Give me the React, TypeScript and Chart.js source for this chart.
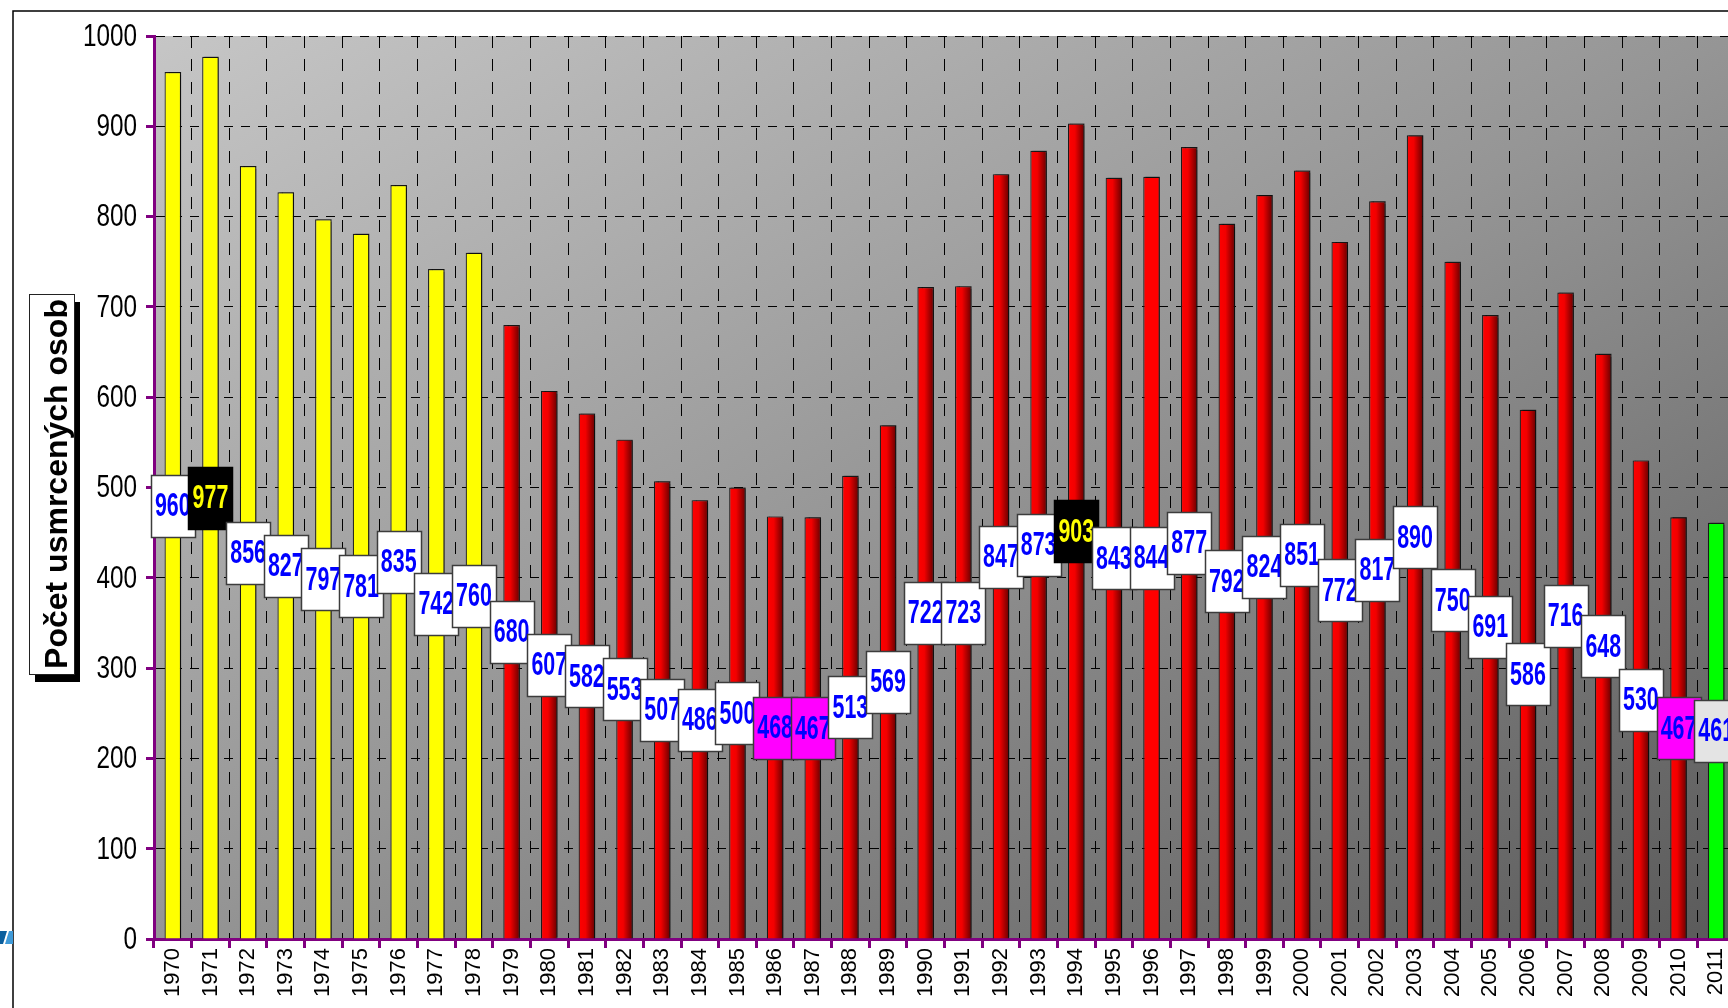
import React, { useEffect, useRef } from "react";
import { Chart, registerables } from "chart.js";

Chart.register(...registerables);

// ---- data ----
const years = [
  "1970", "1971", "1972", "1973", "1974", "1975", "1976", "1977", "1978", "1979",
  "1980", "1981", "1982", "1983", "1984", "1985", "1986", "1987", "1988", "1989",
  "1990", "1991", "1992", "1993", "1994", "1995", "1996", "1997", "1998", "1999",
  "2000", "2001", "2002", "2003", "2004", "2005", "2006", "2007", "2008", "2009",
  "2010", "2011",
];
const deaths = [
  960, 977, 856, 827, 797, 781, 835, 742, 760, 680,
  607, 582, 553, 507, 486, 500, 468, 467, 513, 569,
  722, 723, 847, 873, 903, 843, 844, 877, 792, 824,
  851, 772, 817, 890, 750, 691, 586, 716, 648, 530,
  467, 461,
];
const yMin = 0;
const yMax = 1000;
const yStep = 100;
const yAxisTitle = "Počet usmrcených osob";

// groups of years
const seventiesYears = ["1970", "1971", "1972", "1973", "1974", "1975", "1976", "1977", "1978"];
const currentYears = ["2011"];
const plainYears = ["1996"];
const maxYears = ["1971", "1994"];
const minYears = ["1986", "1987", "2010"];

const BAR_PCT = 0.44;
const FONT = "'Liberation Sans', Arial, sans-serif";

const backgroundPlugin = {
  id: "bgPlugin",
  beforeDraw(chart: any) {
    const { ctx, chartArea } = chart;
    const { left, top, right, bottom } = chartArea;
    ctx.save();
    ctx.fillStyle = "#ffffff";
    ctx.fillRect(0, 0, chart.width, chart.height);
    // outer frame
    ctx.strokeStyle = "#000";
    ctx.lineWidth = 1.5;
    ctx.strokeRect(13, 11, 3000, 3000);
    // plot background gradient (diagonal)
    const w = right - left;
    const h = bottom - top;
    const s = (2 * w * h) / (w * w + h * h);
    const g = ctx.createLinearGradient(left, top, left + h * s, top + w * s);
    g.addColorStop(0, "#c6c6c6");
    g.addColorStop(0.5, "#959595");
    g.addColorStop(1, "#5a5a5a");
    ctx.fillStyle = g;
    ctx.fillRect(left, top, w, h);
    // small logo fragment at left edge
    ctx.fillStyle = "#0b5f9e";
    ctx.beginPath();
    ctx.moveTo(0, 931);
    ctx.lineTo(7, 931);
    ctx.lineTo(3, 944);
    ctx.lineTo(0, 944);
    ctx.closePath();
    ctx.fill();
    ctx.fillStyle = "#3f9ad8";
    ctx.beginPath();
    ctx.moveTo(9, 931);
    ctx.lineTo(13, 931);
    ctx.lineTo(13, 944);
    ctx.lineTo(5, 944);
    ctx.closePath();
    ctx.fill();
    ctx.restore();
  },
  beforeDatasetDraw(chart: any) {
    const { ctx } = chart;
    ctx.shadowColor = "rgba(0,0,0,0.5)";
    ctx.shadowOffsetX = 2;
    ctx.shadowOffsetY = -1;
    ctx.shadowBlur = 1;
  },
  afterDatasetDraw(chart: any) {
    const { ctx } = chart;
    ctx.shadowColor = "rgba(0,0,0,0)";
    ctx.shadowOffsetX = 0;
    ctx.shadowOffsetY = 0;
    ctx.shadowBlur = 0;
  },
  afterDraw(chart: any) {
    const { ctx } = chart;
    ctx.save();
    // y tick labels (narrow style), positioned from the library's y scale ticks
    const ys = chart.scales.y;
    ctx.font = `32px ${FONT}`;
    ctx.fillStyle = "#000";
    ctx.textAlign = "right";
    ctx.textBaseline = "middle";
    ys.ticks.forEach((t: any) => {
      const py = ys.getPixelForValue(t.value);
      ctx.save();
      ctx.translate(ys.right - 17, py + 1);
      ctx.scale(0.76, 1);
      ctx.fillText(String(t.value), 0, 0);
      ctx.restore();
    });
    // y-axis title box with shadow
    const bx = 29, by = 294, bw = 45, bh = 380;
    ctx.fillStyle = "#000";
    ctx.fillRect(bx + 6, by + 8, bw, bh);
    ctx.fillStyle = "#fff";
    ctx.fillRect(bx, by, bw, bh);
    ctx.strokeStyle = "#222";
    ctx.lineWidth = 1;
    ctx.strokeRect(bx + 0.5, by + 0.5, bw, bh);
    ctx.translate(bx + 38, by + bh / 2);
    ctx.rotate(-Math.PI / 2);
    ctx.font = `bold 32px ${FONT}`;
    ctx.fillStyle = "#000";
    ctx.textAlign = "center";
    ctx.textBaseline = "alphabetic";
    ctx.fillText(yAxisTitle, 0, 0);
    ctx.restore();
  },
};

const labelPlugin = {
  id: "valueBoxes",
  afterDatasetsDraw(chart: any) {
    const { ctx } = chart;
    const yScale = chart.scales.y;
    const meta = chart.getDatasetMeta(0);
    const boxW = 44;
    const boxH = 62;
    meta.data.forEach((bar: any, i: number) => {
      const v = deaths[i];
      const yr = years[i];
      const cx = bar.x;
      const cy = yScale.getPixelForValue(v / 2);
      let fill = "#ffffff";
      let textColor = "#0000ff";
      let stroke = "#3c3c3c";
      if (maxYears.includes(yr)) {
        fill = "#000000";
        textColor = "#ffff00";
        stroke = "#000000";
      } else if (minYears.includes(yr)) {
        fill = "#ff00ff";
        stroke = "#3c3c3c";
      } else if (currentYears.includes(yr)) {
        fill = "#e4e4e4";
      }
      ctx.save();
      const x0 = Math.round(cx - boxW / 2) + 0.5;
      const y0 = Math.round(cy - boxH / 2) + 0.5;
      ctx.fillStyle = fill;
      ctx.fillRect(x0, y0, boxW, boxH);
      ctx.strokeStyle = stroke;
      ctx.lineWidth = 1.5;
      ctx.strokeRect(x0, y0, boxW, boxH);
      ctx.translate(cx, cy + 1);
      ctx.scale(0.63, 1);
      ctx.font = `bold 34px ${FONT}`;
      ctx.fillStyle = textColor;
      ctx.textAlign = "center";
      ctx.textBaseline = "middle";
      ctx.fillText(String(v), 0, 0);
      ctx.restore();
    });
  },
};

function barColor(c: any) {
  const i = c.dataIndex;
  if (i === undefined) return "#ff0000";
  const yr = years[i];
  if (seventiesYears.includes(yr)) return "#ffff00";
  if (currentYears.includes(yr)) return "#00ff00";
  if (plainYears.includes(yr)) return "#ff0000";
  const chart = c.chart;
  const xs = chart.scales && chart.scales.x;
  if (!xs || !chart.chartArea) return "#e00000";
  const cx = xs.getPixelForValue(i);
  const half = ((xs.width / years.length) * BAR_PCT) / 2;
  const g = chart.ctx.createLinearGradient(cx - half, 0, cx + half, 0);
  g.addColorStop(0, "#ff0000");
  g.addColorStop(0.42, "#f20000");
  g.addColorStop(1, "#650000");
  return g;
}

export default function App() {
  const ref = useRef<HTMLCanvasElement>(null);
  useEffect(() => {
    const canvas = ref.current;
    if (!canvas) return;
    const chart = new Chart(canvas, {
      type: "bar",
      data: {
        labels: years,
        datasets: [
          {
            data: deaths,
            backgroundColor: barColor as any,
            borderColor: "#1a1a1a",
            borderWidth: 1.2,
            barPercentage: BAR_PCT,
            categoryPercentage: 1,
          },
        ],
      },
      options: {
        responsive: false,
        animation: false,
        devicePixelRatio: 1,
        layout: { padding: { left: 0, right: 10, top: 36, bottom: 0 } },
        plugins: {
          legend: { display: false },
          tooltip: { enabled: false },
          title: { display: false },
        },
        scales: {
          x: {
            grid: {
              display: true,
              offset: true,
              color: "#000",
              lineWidth: 1,
              drawTicks: true,
              tickLength: 9,
              tickColor: "#800080",
              tickWidth: 3,
              tickBorderDash: [],
            } as any,
            border: { display: true, color: "#800080", width: 3, dash: [12, 11] },
            ticks: {
              autoSkip: false,
              minRotation: 90,
              maxRotation: 90,
              padding: 0,
              color: "#000",
              font: { family: FONT, size: 22 },
            },
            afterFit: (s: any) => {
              s.height = 69;
              s.paddingLeft = 0;
              s.paddingRight = 0;
            },
          },
          y: {
            min: yMin,
            max: yMax,
            ticks: {
              display: false,
              stepSize: yStep,
            },
            grid: {
              color: "#000",
              lineWidth: 1,
              drawTicks: true,
              tickLength: 8,
              tickColor: "#800080",
              tickWidth: 3,
              tickBorderDash: [],
            } as any,
            border: { display: true, color: "#800080", width: 3, dash: [9, 8] },
            afterFit: (s: any) => {
              s.width = 154;
              s.paddingTop = 0;
              s.paddingBottom = 0;
            },
          },
        },
      },
      plugins: [backgroundPlugin, labelPlugin],
    });
    return () => chart.destroy();
  }, []);
  return (
    <div
      style={{
        position: "fixed",
        left: 0,
        top: 0,
        width: "100vw",
        height: "100vh",
        overflow: "hidden",
        background: "#fff",
      }}
    >
      <canvas ref={ref} width={1745} height={1008} style={{ display: "block", width: 1745, height: 1008 }} />
    </div>
  );
}
